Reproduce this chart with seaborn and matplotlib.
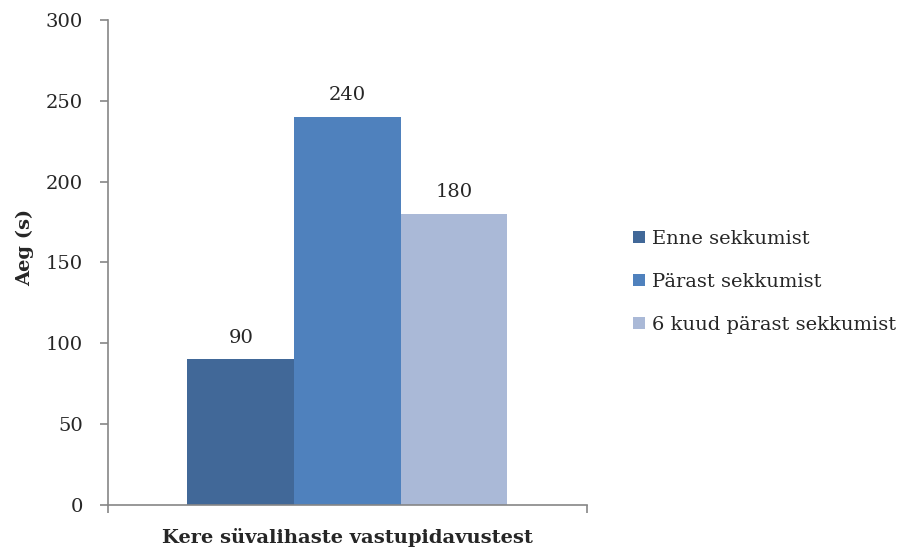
import pandas as pd
import matplotlib
matplotlib.use('Agg')
import matplotlib.pyplot as plt
import seaborn as sns

sns.set_style('white')
plt.rcParams['font.family'] = ['DejaVu Serif', 'Liberation Serif']

category = ['Kere süvalihaste vastupidavustest']
groups = ['Enne sekkumist', 'Pärast sekkumist', '6 kuud pärast sekkumist']
values = [90, 240, 180]
colors = ['#416898', '#4F81BD', '#AAB9D7']

df = pd.DataFrame({'test': category * len(groups), 'group': groups, 'aeg': values})

fig = plt.figure(figsize=(9.15, 5.57), dpi=100)
ax = fig.add_axes([0.118, 0.0934, 0.5235, 0.8707])
sns.barplot(df, x='test', y='aeg', hue='group', palette=colors, width=0.668,
            ax=ax, saturation=1, linewidth=0)

for cont in ax.containers:
    ax.bar_label(cont, padding=9, fontsize=14)

ax.set_xlim(-0.5, 0.5)
ax.set_ylim(0, 300)
ax.set_yticks(range(0, 301, 50))
ax.set_xticks([-0.5, 0.5], minor=True)
ax.set_xticks([0])
ax.set_xticklabels(category, fontweight='bold', fontsize=14)
ax.tick_params(axis='x', which='major', bottom=False, pad=13)
ax.tick_params(axis='x', which='minor', bottom=True, length=6, width=1.2,
               color='#868686', direction='out')
ax.tick_params(axis='y', left=True, length=6, width=1.2, color='#868686',
               direction='out', labelsize=14, pad=12)
ax.set_xlabel('')
ax.set_ylabel('Aeg (s)', fontweight='bold', fontsize=14)
ax.yaxis.set_label_coords(-0.155, 0.53)

for s in ['top', 'right']:
    ax.spines[s].set_visible(False)
for s in ['left', 'bottom']:
    ax.spines[s].set_color('#868686')
    ax.spines[s].set_linewidth(1.2)

ax.legend(loc='center left', bbox_to_anchor=(1.06, 0.46), frameon=False, fontsize=14,
          handlelength=0.6, handleheight=0.6, handletextpad=0.35, labelspacing=1.3)

plt.savefig('out.png', dpi=100)
